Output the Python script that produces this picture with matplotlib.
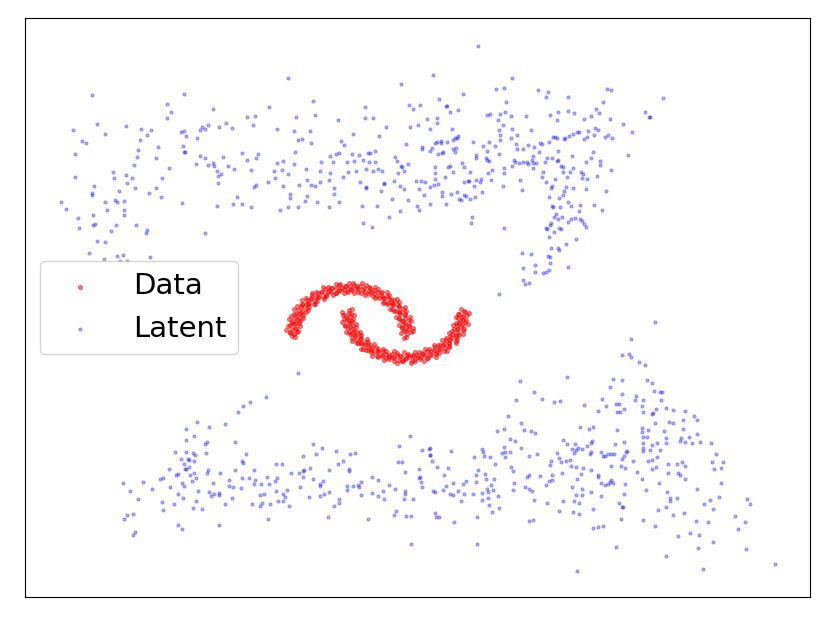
import numpy as np
import matplotlib
matplotlib.use('Agg')
import matplotlib.pyplot as plt

# two moons (data space)
moon_upper = [
    (40.7, 26.6), (41.1, 26.8), (40.4, 26.9), (40.8, 27.1), (40.2, 27.2), (40.9, 27.4), (40.5, 27.5),
    (40.5, 27.7), (40.9, 28.0), (40.2, 27.9), (40.5, 28.2), (39.9, 28.2), (40.5, 28.6), (40.0, 28.6),
    (40.0, 28.8), (40.3, 29.1), (39.6, 28.9), (39.9, 29.3), (39.2, 29.1), (39.7, 29.6), (39.3, 29.5),
    (39.2, 29.7), (39.4, 30.0), (38.8, 29.7), (38.9, 30.1), (38.4, 29.8), (38.7, 30.4), (38.3, 30.2),
    (38.2, 30.4), (38.2, 30.8), (37.7, 30.4), (37.8, 30.8), (37.3, 30.4), (37.4, 31.0), (37.1, 30.8),
    (36.9, 30.9), (36.9, 31.3), (36.5, 30.8), (36.4, 31.2), (36.1, 30.7), (36.0, 31.4), (35.8, 31.1),
    (35.6, 31.2), (35.4, 31.5), (35.2, 31.0), (35.0, 31.3), (34.8, 30.8), (34.6, 31.4), (34.4, 31.1),
    (34.2, 31.2), (33.9, 31.5), (33.9, 30.9), (33.6, 31.2), (33.6, 30.7), (33.1, 31.2), (33.1, 30.8),
    (32.9, 30.9), (32.5, 31.1), (32.6, 30.5), (32.2, 30.8), (32.4, 30.3), (31.8, 30.7), (31.9, 30.3),
    (31.6, 30.3), (31.2, 30.5), (31.5, 29.9), (31.1, 30.1), (31.4, 29.6), (30.7, 30.0), (30.8, 29.6),
    (30.6, 29.6), (30.2, 29.6), (30.6, 29.2), (30.1, 29.3), (30.6, 28.8), (29.8, 29.0), (30.1, 28.7),
    (29.9, 28.6), (29.4, 28.6), (30.0, 28.2), (29.5, 28.2), (30.0, 27.9), (29.2, 27.9), (29.6, 27.7),
    (29.4, 27.6), (29.0, 27.5), (29.6, 27.2), (29.2, 27.1), (29.8, 26.9), (29.0, 26.8), (29.4, 26.6),
    (29.5, 26.3), (29.2, 26.4), (40.6, 26.3), (40.4, 26.2),
    (40.1, 26.7), (41.3, 26.9), (40.6, 27.0), (41.3, 27.2), (40.2, 27.3), (40.9, 27.5), (39.9, 27.5),
    (41.1, 27.9), (40.3, 27.9), (41.0, 28.3), (39.9, 28.1), (40.5, 28.5), (39.6, 28.3), (40.6, 28.9),
    (39.9, 28.8), (40.5, 29.3), (39.4, 28.9), (39.9, 29.4), (39.0, 29.1), (39.9, 29.8), (39.2, 29.6),
    (39.7, 30.1), (38.7, 29.6), (39.1, 30.1), (38.3, 29.7), (38.9, 30.5), (38.4, 30.2), (38.7, 30.8),
    (37.9, 30.2), (38.1, 30.7), (37.5, 30.2), (37.8, 31.1), (37.4, 30.7), (37.5, 31.3), (36.9, 30.6),
    (37.0, 31.2), (36.5, 30.5), (36.6, 31.5), (36.3, 31.0), (36.2, 31.7), (35.8, 30.8), (35.7, 31.4),
    (35.4, 30.7), (35.3, 31.7), (35.1, 31.1), (34.9, 31.7), (34.7, 30.9), (34.5, 31.4), (34.4, 30.7),
    (34.0, 31.6), (33.9, 31.0), (33.6, 31.6), (33.6, 30.7), (33.2, 31.2), (33.3, 30.5), (32.8, 31.3),
    (32.8, 30.8), (32.3, 31.3), (32.6, 30.4), (32.1, 30.8), (32.4, 30.1), (31.6, 30.8), (31.8, 30.3),
    (31.2, 30.7), (31.7, 29.9), (31.1, 30.2), (31.5, 29.6), (30.6, 30.2), (30.9, 29.7), (30.2, 30.0),
    (30.9, 29.3), (30.2, 29.5), (30.8, 29.0), (29.7, 29.4), (30.2, 28.9), (29.4, 29.1), (30.3, 28.5),
    (29.6, 28.6), (30.3, 28.2), (29.1, 28.4), (29.7, 28.1), (28.9, 28.1), (29.9, 27.7), (29.2, 27.7),
    (30.0, 27.4), (28.8, 27.4), (29.5, 27.1), (28.6, 27.0), (29.7, 26.8), (29.0, 26.7),
]
moon_lower = [
    (46.5, 28.8), (45.9, 28.6), (46.7, 28.5), (46.2, 28.3), (45.8, 28.2), (46.3, 28.0), (46.5, 27.8),
    (45.9, 27.7), (46.3, 27.5), (45.7, 27.5), (46.4, 27.1), (45.8, 27.1), (45.4, 27.1), (45.8, 26.7),
    (45.9, 26.5), (45.3, 26.6), (45.6, 26.3), (45.0, 26.4), (45.6, 25.9), (45.0, 26.0), (44.6, 26.0),
    (44.9, 25.7), (44.9, 25.4), (44.4, 25.6), (44.5, 25.2), (44.0, 25.5), (44.4, 24.9), (43.9, 25.1),
    (43.5, 25.3), (43.6, 24.8), (43.6, 24.6), (43.1, 24.9), (43.1, 24.5), (42.7, 24.9), (42.8, 24.2),
    (42.5, 24.5), (42.2, 24.7), (42.1, 24.3), (42.0, 24.1), (41.7, 24.5), (41.5, 24.1), (41.3, 24.5),
    (41.2, 23.9), (40.9, 24.3), (40.7, 24.5), (40.5, 24.1), (40.3, 23.9), (40.1, 24.4), (39.9, 24.0),
    (39.7, 24.5), (39.4, 23.9), (39.3, 24.3), (39.2, 24.6), (38.9, 24.3), (38.6, 24.2), (38.6, 24.6),
    (38.2, 24.4), (38.3, 24.9), (37.8, 24.3), (37.8, 24.8), (37.8, 25.1), (37.4, 24.8), (37.1, 24.8),
    (37.2, 25.2), (36.8, 25.0), (37.0, 25.5), (36.3, 25.1), (36.5, 25.5), (36.6, 25.8), (36.1, 25.7),
    (35.8, 25.7), (36.1, 26.1), (35.6, 26.0), (36.0, 26.4), (35.2, 26.2), (35.5, 26.5), (35.7, 26.8),
    (35.2, 26.7), (34.9, 26.8), (35.3, 27.1), (34.8, 27.2), (35.3, 27.5), (34.5, 27.4), (34.9, 27.7),
    (35.2, 27.9), (34.7, 28.0), (34.4, 28.1), (35.0, 28.3), (34.5, 28.5), (35.1, 28.6), (34.2, 28.8),
    (34.9, 29.0), (35.2, 29.1), (46.1, 29.1), (46.4, 28.9),
    (46.9, 28.7), (45.8, 28.6), (46.3, 28.4), (45.6, 28.3), (46.6, 28.0), (46.0, 27.9), (46.8, 27.6),
    (45.6, 27.7), (46.1, 27.4), (45.3, 27.5), (46.3, 27.0), (45.7, 27.1), (46.3, 26.6), (45.2, 26.9),
    (45.6, 26.5), (44.9, 26.7), (45.7, 26.1), (45.1, 26.2), (45.6, 25.7), (44.6, 26.2), (44.9, 25.7),
    (44.2, 26.0), (44.9, 25.3), (44.3, 25.5), (44.7, 24.9), (43.8, 25.5), (44.0, 25.1), (43.4, 25.5),
    (43.9, 24.7), (43.4, 25.0), (43.6, 24.3), (42.9, 25.1), (43.0, 24.6), (42.5, 25.1), (42.7, 24.2),
    (42.3, 24.6), (42.4, 23.9), (41.9, 24.8), (41.8, 24.3), (41.5, 24.8), (41.5, 23.9), (41.2, 24.4),
    (41.1, 23.7), (40.8, 24.6), (40.6, 24.2), (40.4, 24.8), (40.2, 23.9), (40.0, 24.4), (39.7, 23.7),
    (39.7, 24.7), (39.4, 24.2), (39.4, 24.9), (38.9, 24.1), (38.9, 24.5), (38.4, 24.0), (38.6, 24.9),
    (38.2, 24.5), (38.3, 25.1), (37.7, 24.4), (37.8, 24.9), (37.2, 24.4), (37.6, 25.3), (37.1, 25.0),
    (37.4, 25.6), (36.6, 25.0), (36.8, 25.4), (36.1, 25.1), (36.8, 25.8), (36.2, 25.6), (36.7, 26.1),
    (35.7, 25.7), (36.0, 26.1), (35.2, 25.9), (36.1, 26.5), (35.5, 26.4), (36.0, 26.8), (35.0, 26.6),
    (35.4, 26.9), (34.6, 26.8), (35.6, 27.3), (35.0, 27.3), (35.6, 27.6), (34.5, 27.5), (35.0, 27.8),
    (34.2, 27.8), (35.3, 28.1), (34.7, 28.2), (35.4, 28.5), (34.3, 28.5), (34.9, 28.7),
]

# latent samples, upper band
latent_top = [
    (28.8, 52.2), (9.2, 50.5), (18.4, 50.6), (31.3, 49.9), (16.7, 49.6), (21.3, 49.1), (26.9, 49.3),
    (17.1, 48.8), (24.7, 48.3), (25.5, 48.4), (29.6, 48.3), (31.5, 48.5), (16.7, 48.2), (33.8, 48.0),
    (9.7, 47.6), (12.6, 47.4), (7.3, 47.0), (14.1, 47.1), (15.1, 47.0), (10.5, 46.6), (14.7, 46.5),
    (18.1, 46.8), (18.4, 46.9), (18.6, 46.4), (20.0, 47.0), (20.2, 47.3), (20.5, 47.1), (20.8, 47.5),
    (22.6, 47.7), (23.2, 47.2), (21.9, 47.3), (25.3, 47.5), (27.7, 47.1), (29.4, 46.9), (31.0, 46.9),
    (35.3, 46.6), (8.2, 45.9), (8.6, 45.7), (14.0, 46.0), (19.7, 46.2), (29.8, 46.0), (30.2, 46.1),
    (31.1, 45.7), (34.1, 45.9), (34.4, 45.5), (18.3, 45.4), (15.8, 45.3), (7.5, 44.6), (13.8, 45.0),
    (18.4, 44.8), (18.5, 44.8), (20.0, 44.4), (20.5, 44.2), (24.2, 44.7), (22.3, 44.3), (25.8, 44.6),
    (25.6, 44.2), (24.7, 44.0), (29.5, 44.8), (33.0, 44.4), (33.6, 44.6), (33.9, 44.7), (35.2, 44.6),
    (35.9, 44.5), (13.7, 44.3), (15.6, 44.2), (13.4, 43.5), (19.6, 43.6), (20.8, 43.5), (21.3, 43.7),
    (21.4, 43.4), (21.7, 42.9), (22.8, 43.4), (23.4, 43.1), (25.1, 43.0), (27.7, 43.7), (28.3, 43.9),
    (29.4, 43.6), (30.6, 43.1), (32.1, 43.8), (33.3, 43.8), (34.7, 43.8), (35.4, 43.9), (11.3, 42.8),
    (16.9, 43.2), (27.4, 42.9), (28.2, 43.0), (28.8, 42.6), (32.0, 42.9), (33.0, 42.7), (34.8, 42.8),
    (35.6, 42.9), (7.5, 42.3), (11.4, 42.2), (12.6, 42.5), (13.2, 42.2), (12.7, 41.7), (16.2, 42.2),
    (21.8, 42.4), (22.1, 42.6), (21.8, 41.7), (27.5, 42.2), (26.8, 41.8), (28.3, 41.4), (29.9, 41.5),
    (30.7, 42.0), (31.1, 41.5), (31.5, 41.4), (32.0, 41.8), (32.9, 42.0), (33.4, 41.2), (34.3, 42.3),
    (36.0, 41.8), (9.4, 41.4), (13.5, 41.2), (15.6, 41.2), (9.2, 40.7), (9.2, 40.5), (11.9, 40.9),
    (14.9, 40.7), (16.1, 40.3), (6.1, 39.8), (6.6, 39.1), (10.5, 39.8), (11.5, 40.0), (11.7, 39.8),
    (12.4, 39.9), (10.7, 39.0), (12.4, 39.0), (18.2, 39.7), (21.7, 39.4), (23.3, 39.6), (23.7, 40.3),
    (24.2, 39.6), (25.1, 39.3), (25.4, 41.3), (25.6, 41.5), (29.0, 40.6), (29.0, 40.2), (30.5, 39.9),
    (30.7, 40.4), (31.7, 39.8), (33.4, 40.6), (33.9, 39.8), (32.9, 39.3), (29.8, 39.3), (28.8, 39.3),
    (28.0, 39.0), (36.2, 39.4), (7.8, 38.2), (7.9, 37.2), (9.3, 38.5), (9.3, 37.5), (9.5, 37.6),
    (12.4, 38.5), (11.6, 37.5), (11.1, 36.9), (13.6, 37.5), (14.6, 36.7), (14.7, 37.0), (9.7, 35.9),
    (10.5, 35.8), (20.5, 36.7), (36.3, 37.7), (8.9, 34.7), (10.4, 34.1), (11.7, 34.4), (12.3, 34.5),
    (15.0, 34.3), (12.0, 33.9), (12.7, 33.9),
    (47.8, 55.4), (43.3, 52.5), (40.1, 51.6), (51.2, 52.2), (49.6, 51.1), (50.4, 51.2), (53.8, 51.0),
    (54.8, 50.8), (54.6, 50.3), (56.8, 50.3), (60.7, 51.1), (61.1, 51.0), (66.3, 50.2), (46.3, 50.6),
    (43.9, 50.1), (40.9, 49.5), (41.3, 49.1), (42.0, 49.5), (44.6, 49.4), (44.7, 49.4), (45.0, 48.8),
    (45.8, 49.0), (50.6, 49.8), (50.0, 48.6), (50.5, 48.8), (48.7, 48.5), (49.0, 48.6), (51.1, 48.4),
    (52.6, 48.4), (55.0, 48.5), (55.8, 48.8), (56.8, 48.9), (57.4, 48.7), (55.7, 48.0), (60.3, 49.8),
    (59.6, 49.1), (59.9, 48.7), (59.1, 48.4), (58.4, 48.1), (61.0, 48.1), (64.5, 48.8), (64.9, 48.3),
    (65.0, 48.3), (36.5, 49.3), (36.5, 48.2), (37.3, 48.2), (38.6, 47.3), (41.0, 47.3), (41.8, 47.5),
    (42.7, 48.1), (43.7, 48.2), (43.7, 47.7), (43.0, 47.1), (45.2, 47.1), (49.8, 48.0), (49.9, 47.0),
    (50.3, 47.5), (51.2, 47.1), (53.1, 47.0), (51.7, 46.5), (50.0, 46.5), (50.0, 46.0), (51.1, 46.2),
    (37.9, 46.4), (40.6, 45.6), (42.2, 45.3), (42.2, 45.1), (43.0, 44.9), (43.5, 45.7), (43.7, 45.8),
    (44.1, 45.9), (44.1, 45.7), (44.7, 45.8), (45.3, 46.0), (45.5, 46.2), (45.8, 46.4), (45.7, 46.2),
    (45.3, 45.1), (45.6, 45.2), (45.5, 44.8), (43.2, 45.2), (43.8, 44.6), (44.2, 44.7), (44.3, 44.8),
    (47.3, 45.8), (48.3, 45.4), (48.9, 45.8), (49.5, 45.4), (48.7, 44.9), (49.9, 44.6), (47.6, 44.5),
    (47.6, 44.2), (48.6, 44.2), (48.7, 44.0), (48.9, 43.9), (51.6, 45.6), (51.7, 45.1), (52.3, 45.1),
    (52.8, 45.5), (53.4, 45.3), (54.0, 45.7), (54.2, 45.6), (54.9, 45.8), (55.3, 46.3), (55.5, 46.3),
    (55.7, 46.2), (56.4, 46.1), (56.5, 46.2), (56.9, 46.4), (57.3, 46.6), (57.7, 46.8), (57.9, 46.8),
    (58.8, 46.9), (59.5, 47.2), (59.8, 47.0), (59.4, 46.5), (60.5, 46.3), (60.8, 46.5), (61.2, 46.2),
    (58.4, 46.1), (58.7, 46.3), (62.3, 47.6), (63.2, 46.8), (62.8, 44.5), (53.9, 44.8), (55.8, 44.9),
    (57.2, 44.4), (59.3, 44.8), (59.1, 44.2), (58.6, 43.8), (60.0, 43.9), (60.0, 43.5), (61.1, 43.0),
    (59.7, 42.4), (60.6, 40.9), (60.2, 39.0), (59.4, 39.5), (36.8, 44.7), (37.0, 44.7), (36.3, 44.0),
    (36.9, 43.8), (37.5, 43.8), (37.5, 44.9), (36.6, 43.1), (37.3, 42.9), (37.8, 43.1), (38.2, 42.9),
    (39.5, 44.3), (39.7, 43.9), (40.2, 43.3), (40.1, 43.4), (40.8, 43.6), (40.4, 42.9), (39.8, 42.7),
    (39.4, 41.9), (40.0, 41.4), (38.4, 41.7), (38.4, 41.6), (38.1, 40.9), (36.6, 41.3), (36.6, 41.2),
    (40.4, 41.1), (41.6, 41.9), (42.1, 41.9), (42.5, 41.8), (41.9, 41.1), (42.4, 40.5), (40.8, 40.0),
    (39.2, 40.1), (37.7, 39.4), (41.7, 39.4), (41.9, 39.0), (40.0, 38.9), (38.9, 38.3), (37.2, 37.3),
    (43.0, 39.6), (43.0, 41.3), (43.4, 41.5), (43.8, 41.6), (43.5, 42.1), (43.5, 42.7), (43.5, 43.3),
    (44.8, 43.3), (45.0, 43.4), (45.3, 42.8), (44.5, 42.3), (44.2, 40.8), (44.2, 40.4), (44.6, 39.6),
    (45.1, 40.6), (45.7, 40.8), (45.9, 40.1), (46.1, 40.0), (46.4, 40.5), (46.6, 40.4), (46.2, 43.7),
    (46.4, 43.3), (47.0, 42.8), (46.9, 41.9), (46.4, 41.8), (46.8, 41.9), (47.4, 41.4), (47.6, 42.0),
    (48.1, 42.1), (48.0, 41.8), (48.2, 40.8), (47.5, 40.3), (47.0, 40.1), (49.1, 42.0), (49.2, 43.0),
    (48.8, 42.7), (50.4, 43.2), (50.4, 42.7), (50.3, 41.4), (51.2, 43.4), (51.4, 44.0), (51.5, 43.8),
    (51.9, 43.7), (52.3, 43.8), (52.7, 43.8), (52.8, 43.6), (53.2, 44.0), (53.3, 44.4), (53.3, 43.7),
    (53.6, 43.7), (54.5, 43.8), (54.7, 44.2), (55.2, 44.2), (55.7, 43.9), (55.8, 44.0), (52.0, 42.0),
    (52.2, 41.0), (53.3, 43.2), (54.2, 42.3), (54.3, 42.8), (54.6, 41.8), (55.1, 41.2), (55.2, 41.4),
    (55.5, 42.1), (56.1, 43.4), (56.3, 43.3), (56.3, 42.8), (57.0, 42.8), (56.7, 42.3), (57.3, 43.2),
    (58.1, 42.8), (58.3, 42.6), (58.7, 42.1), (58.2, 42.2), (56.6, 41.3), (57.3, 41.2), (56.4, 40.9),
    (56.3, 40.5), (54.9, 40.3), (55.9, 40.2), (58.6, 41.1), (56.8, 39.8), (57.1, 39.4), (58.0, 39.5),
    (57.9, 38.9), (55.2, 39.4), (55.3, 39.3), (56.0, 39.3), (55.6, 38.6), (55.4, 38.3), (56.2, 38.3),
    (55.8, 38.1), (56.8, 37.8), (57.1, 38.1), (57.5, 38.2), (58.0, 38.1), (58.2, 37.9), (58.4, 37.6),
    (58.6, 37.3), (55.1, 37.7), (55.0, 37.5), (54.6, 37.2), (54.7, 37.1), (55.9, 37.2), (56.1, 37.1),
    (55.4, 36.8), (54.9, 36.3), (57.6, 36.1), (56.6, 35.6), (55.8, 35.2), (55.9, 35.0), (55.1, 35.2),
    (54.8, 34.4), (55.0, 34.3), (55.0, 33.7), (54.9, 33.0), (54.6, 32.8), (54.3, 32.7), (56.8, 33.3),
    (53.5, 33.5), (53.5, 32.8), (52.2, 34.7), (53.1, 34.6), (52.3, 33.2), (52.3, 32.0), (52.5, 31.6),
    (52.9, 31.7), (50.4, 37.2), (47.2, 38.3), (47.1, 37.7), (49.9, 30.6),
]

# latent samples, lower band
latent_bottom = [
    (29.8, 22.7), (26.6, 20.3), (25.0, 19.8), (24.3, 19.4), (23.8, 18.8), (19.7, 17.8), (18.6, 17.1),
    (20.9, 17.3), (22.5, 17.6), (19.4, 16.4), (18.6, 16.0), (20.5, 15.6), (20.7, 15.8), (23.5, 15.8),
    (17.5, 14.8), (18.6, 14.8), (19.3, 14.7), (19.5, 14.5), (20.6, 14.7), (18.1, 14.1), (18.4, 13.6),
    (18.8, 14.1), (18.9, 14.0), (19.4, 13.9), (24.6, 14.6), (24.2, 13.9), (24.3, 13.7), (18.9, 13.3),
    (18.5, 13.1), (18.6, 13.1), (16.9, 13.1), (17.6, 12.5), (17.8, 12.6), (19.0, 12.5), (19.4, 12.7),
    (19.6, 12.2), (19.2, 11.9), (20.8, 13.0), (20.7, 12.7), (22.0, 12.7), (23.5, 13.0), (25.4, 13.0),
    (27.6, 13.6), (28.2, 13.6), (16.0, 12.1), (16.3, 12.2), (14.3, 11.8), (12.3, 11.7), (18.2, 11.7),
    (18.4, 11.4), (17.0, 11.3), (15.2, 11.1), (13.0, 10.9), (22.9, 12.0), (21.3, 11.7), (22.9, 11.4),
    (23.3, 11.3), (24.1, 11.2), (24.2, 12.2), (24.9, 12.2), (25.5, 12.0), (25.4, 11.6), (26.1, 11.6),
    (26.7, 12.3), (26.9, 11.6), (27.5, 11.9), (27.7, 12.2), (19.8, 10.9), (20.9, 10.8), (21.1, 10.4),
    (21.4, 10.6), (21.9, 10.7), (21.9, 10.5), (17.8, 10.6), (18.3, 10.2), (13.8, 10.1), (16.2, 9.8),
    (17.4, 9.6), (19.6, 9.9), (23.2, 10.2), (22.5, 9.6), (19.3, 9.2), (20.2, 9.1), (16.3, 9.0),
    (25.2, 9.6), (26.0, 9.4), (26.2, 9.7), (26.0, 10.5), (26.4, 10.6), (27.0, 9.6), (27.6, 10.9),
    (28.3, 10.6), (28.5, 10.3), (28.7, 11.0), (27.8, 9.9), (28.3, 9.9), (28.9, 9.4), (29.1, 12.7),
    (29.9, 12.7), (30.3, 12.9), (30.4, 13.0), (31.0, 13.2), (30.3, 12.3), (30.0, 11.3), (31.3, 12.1),
    (31.3, 15.6), (30.3, 14.4), (31.6, 14.6), (32.2, 15.2), (32.9, 13.0), (32.3, 11.9), (32.0, 11.6),
    (32.0, 11.4), (30.9, 10.3), (32.0, 10.4), (32.4, 10.6), (32.9, 10.8), (33.6, 14.9), (34.3, 13.9),
    (33.8, 13.6), (35.0, 14.6), (35.5, 14.7), (34.9, 13.1), (34.9, 12.9), (36.1, 11.8), (35.8, 11.5),
    (35.9, 11.3), (35.3, 11.4), (34.7, 11.4), (34.7, 11.0), (36.1, 10.5), (33.9, 10.1), (33.9, 9.7),
    (33.4, 9.4), (32.8, 8.3), (26.8, 8.1), (21.9, 7.5), (17.8, 7.5), (18.2, 7.1), (13.3, 8.6),
    (12.7, 8.5), (12.4, 8.1), (13.5, 6.8), (13.3, 6.5), (36.8, 8.1), (37.2, 12.3), (37.8, 12.0),
    (38.9, 11.5), (39.5, 11.1), (37.2, 10.7), (37.8, 10.4), (38.3, 10.9), (38.4, 10.1), (39.9, 15.4),
    (41.0, 16.4), (39.8, 13.8), (40.2, 13.8), (40.5, 12.8), (40.5, 10.9), (40.5, 10.6), (40.4, 10.1),
    (41.3, 10.1), (39.6, 8.9), (39.4, 8.5), (40.6, 8.4), (41.1, 8.4), (41.1, 5.6), (41.9, 13.1),
    (42.0, 12.3), (41.9, 12.2), (42.1, 11.8), (42.2, 11.3), (42.2, 15.0), (42.9, 15.1), (43.0, 14.5),
    (65.5, 27.8), (63.1, 26.1), (62.2, 24.5), (62.9, 24.6), (63.1, 24.3), (63.9, 23.8), (64.5, 23.5),
    (52.0, 21.9), (56.7, 22.3), (61.3, 22.1), (62.2, 22.0), (64.7, 22.0), (65.2, 21.7), (61.0, 21.3),
    (62.2, 20.6), (53.4, 20.8), (51.6, 20.0), (54.2, 20.1), (55.4, 19.8), (56.0, 19.9), (58.4, 19.5),
    (60.2, 20.1), (60.6, 19.4), (59.8, 18.9), (61.6, 19.6), (61.9, 19.6), (62.4, 19.1), (61.7, 18.8),
    (62.0, 18.8), (63.6, 20.4), (63.5, 20.0), (64.3, 20.0), (65.4, 20.9), (66.0, 20.8), (66.2, 20.8),
    (66.1, 20.0), (64.2, 19.4), (64.3, 18.8), (65.2, 18.6), (65.3, 18.7), (65.6, 19.1), (66.6, 19.2),
    (67.3, 19.0), (68.5, 18.9), (69.4, 18.4), (69.7, 18.0), (66.9, 17.8), (67.3, 17.7), (68.3, 18.0),
    (68.3, 17.1), (66.4, 16.9), (66.6, 16.2), (66.6, 15.7), (68.1, 16.2), (68.0, 15.9), (68.5, 15.8),
    (68.9, 16.3), (69.2, 15.7), (69.7, 16.6), (70.0, 15.8), (71.1, 15.7), (71.6, 14.6), (72.3, 13.8),
    (71.2, 13.8), (71.4, 13.1), (72.1, 13.2), (72.1, 11.7), (69.7, 11.1), (71.9, 10.3), (71.0, 10.0),
    (70.4, 9.6), (71.3, 9.1), (70.8, 7.8), (69.6, 7.9), (69.9, 6.5), (69.0, 6.7), (71.3, 5.8),
    (69.8, 5.2), (70.3, 3.1), (74.7, 10.1), (75.0, 9.6), (73.5, 8.4), (74.5, 7.8), (73.8, 7.1),
    (74.6, 5.1), (77.5, 3.6), (67.8, 6.4), (66.6, 4.4), (68.4, 8.7), (67.3, 8.5), (66.6, 9.3),
    (65.8, 9.0), (65.5, 7.4), (64.3, 8.0), (67.0, 10.2), (67.0, 9.9), (67.7, 10.2), (66.7, 10.8),
    (68.5, 12.1), (67.8, 12.7), (68.0, 12.5), (66.8, 12.7), (66.8, 13.6), (67.7, 13.6), (68.2, 13.8),
    (68.5, 13.4), (65.9, 11.7), (65.2, 13.1), (65.6, 13.3), (65.7, 14.3), (65.2, 14.0), (64.8, 13.9),
    (66.0, 15.0), (65.7, 15.7), (65.2, 15.5), (65.0, 15.0), (64.3, 15.7), (64.3, 15.2), (64.3, 16.3),
    (64.2, 16.8), (64.2, 17.2), (64.8, 17.0), (64.7, 16.3), (65.5, 17.7), (63.7, 12.8), (64.2, 12.1),
    (64.6, 11.0), (64.3, 14.9), (63.3, 13.9), (62.7, 14.9), (62.6, 14.8), (62.4, 15.8), (62.4, 14.4),
    (62.2, 14.1), (62.1, 13.4), (62.5, 13.2), (62.5, 11.6), (62.4, 10.6), (61.9, 9.7), (62.2, 9.3),
    (62.3, 9.3), (62.1, 8.1), (61.6, 5.3), (61.5, 15.6), (61.7, 17.0), (61.4, 14.6), (61.1, 14.6),
    (60.8, 14.6), (60.5, 14.4), (60.3, 14.4), (60.1, 14.8), (61.1, 13.4), (61.1, 12.0), (61.0, 11.8),
    (61.3, 11.7), (60.8, 11.6), (60.5, 11.5), (60.1, 11.7), (59.8, 12.5), (59.8, 12.3), (59.1, 14.8),
    (59.0, 14.6), (59.1, 15.7), (59.2, 15.9), (58.7, 15.4), (58.9, 17.1), (59.3, 17.3), (58.0, 17.3),
    (58.2, 15.1), (57.8, 15.2), (57.5, 15.6), (57.6, 15.0), (57.4, 14.7), (57.2, 15.1), (56.3, 16.0),
    (56.7, 15.6), (55.7, 14.7), (55.9, 14.2), (56.1, 13.8), (56.6, 13.9), (57.0, 14.0), (57.1, 13.4),
    (55.1, 13.9), (55.0, 13.5), (56.2, 12.7), (57.6, 13.3), (58.3, 13.2), (59.1, 13.0), (57.7, 12.1),
    (58.1, 12.6), (58.2, 11.1), (59.1, 10.8), (60.1, 10.4), (57.2, 11.3), (57.6, 10.5), (58.2, 10.5),
    (57.9, 9.7), (57.4, 9.9), (56.3, 9.9), (55.9, 8.9), (57.3, 8.8), (57.9, 8.6), (59.3, 9.1),
    (59.3, 7.2), (59.8, 7.3), (60.3, 7.4), (57.7, 2.9), (54.7, 9.7), (55.2, 12.5), (55.2, 12.0),
    (54.9, 11.9), (54.6, 11.5), (54.0, 12.4), (52.9, 12.5), (52.7, 12.3), (52.5, 11.3), (52.9, 11.1),
    (53.2, 10.9), (53.4, 10.0), (52.9, 7.9), (53.3, 8.0), (51.4, 11.7), (51.3, 11.0), (51.3, 12.9),
    (51.1, 13.3), (52.9, 14.4), (53.7, 14.6), (52.1, 15.2), (51.5, 15.9), (51.0, 16.1), (51.0, 14.8),
    (50.5, 14.8), (50.4, 15.3), (50.2, 14.7), (50.5, 14.3), (49.7, 16.9), (50.4, 17.1), (50.8, 18.4),
    (52.1, 17.7), (52.4, 17.0), (53.1, 16.9), (53.5, 16.7), (49.5, 13.6), (49.0, 14.3), (48.4, 14.4),
    (48.2, 15.1), (48.3, 14.8), (47.4, 14.3), (44.8, 13.2), (45.1, 14.9), (43.7, 13.3), (43.2, 13.9),
    (43.0, 15.2), (43.0, 14.5), (44.4, 12.5), (44.6, 11.4), (45.3, 11.7), (44.3, 11.0), (43.3, 10.9),
    (43.5, 10.8), (45.0, 10.6), (45.3, 10.5), (45.8, 10.9), (46.4, 10.6), (46.3, 11.6), (46.6, 11.9),
    (46.1, 9.9), (47.6, 11.8), (47.6, 12.5), (47.8, 13.0), (47.3, 10.6), (48.2, 10.7), (48.2, 10.0),
    (48.5, 12.6), (48.6, 12.1), (48.7, 11.1), (48.8, 10.8), (48.8, 10.2), (48.9, 9.5), (49.1, 11.5),
    (49.3, 11.0), (49.4, 12.1), (49.8, 10.4), (49.9, 9.2), (49.2, 8.8), (47.7, 8.3), (47.7, 5.6),
    (45.4, 7.8), (43.5, 8.7), (43.6, 8.3), (43.9, 8.3),
]

data = np.array(moon_upper + moon_lower)
latent = np.array(latent_top + latent_bottom)

fig = plt.figure(figsize=(8.3, 6.23), dpi=100)
ax = fig.add_axes([25 / 830, 26 / 623, 785 / 830, 579 / 623])

ax.scatter(data[:, 0], data[:, 1], s=8, c='red', alpha=0.5, linewidths=0.8, label='Data')
ax.scatter(latent[:, 0], latent[:, 1], s=5, c='blue', alpha=0.3, linewidths=0.8, label='Latent')

ax.set_xlim(2.5, 81.0)
ax.set_ylim(0.3, 58.2)
ax.set_xticks([])
ax.set_yticks([])
ax.legend(loc='center left', fontsize=21)

fig.savefig('out.png')
